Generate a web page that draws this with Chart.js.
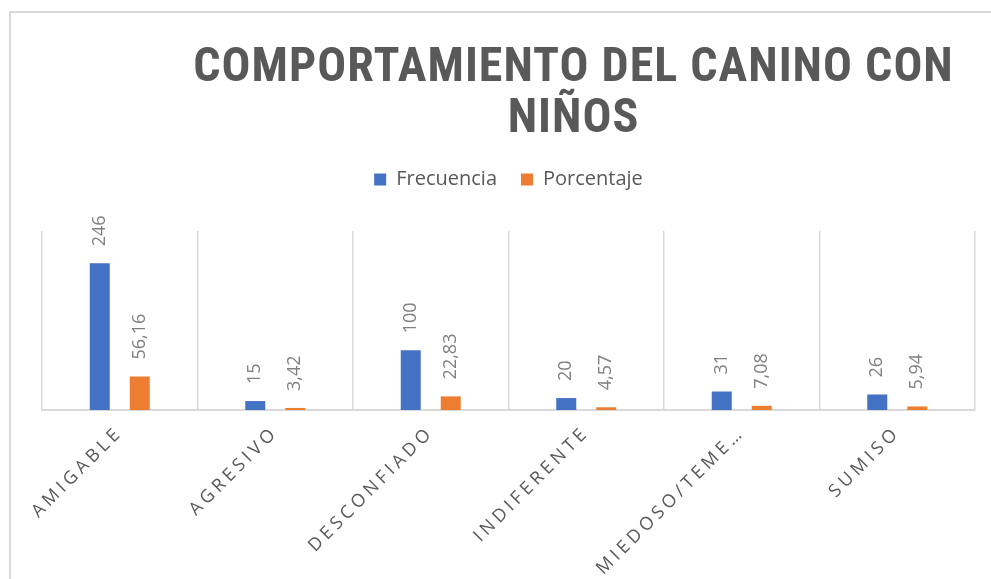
<!DOCTYPE html>
<html>
<head>
<meta charset="utf-8">
<script src="https://cdn.jsdelivr.net/npm/chart.js@4/dist/chart.umd.min.js"></script>
<style>
  html, body { margin: 0; padding: 0; background: #fff; overflow: hidden; }
  #marco { position: absolute; left: 9px; top: 11px; width: 1200px; height: 800px;
           border-left: 2px solid #d9d9d9; border-top: 2px solid #d9d9d9; }
  #wrap { position: absolute; left: 0; top: 0; width: 991px; height: 579px; }
</style>
</head>
<body>
<div id="marco"></div>
<div id="wrap"><canvas id="grafico"></canvas></div>
<script>
const categorias = ['AMIGABLE', 'AGRESIVO', 'DESCONFIADO', 'INDIFERENTE', 'MIEDOSO/TEME…', 'SUMISO'];
const frecuencia = [246, 15, 100, 20, 31, 26];
const porcentaje = [56.16, 3.42, 22.83, 4.57, 7.08, 5.94];

const gris = '#595959';

// etiquetas de datos verticales sobre cada barra
const etiquetas = {
  id: 'etiquetas',
  afterDatasetsDraw(chart) {
    const ctx = chart.ctx;
    chart.data.datasets.forEach((ds, i) => {
      chart.getDatasetMeta(i).data.forEach((bar, j) => {
        const v = ds.data[j];
        const txt = i === 0 ? String(v) : v.toFixed(2).replace('.', ',');
        ctx.save();
        ctx.translate(bar.x, bar.y - 17);
        ctx.rotate(-Math.PI / 2);
        ctx.font = '18px "Open Sans", sans-serif';
        ctx.fillStyle = '#7f7f7f';
        ctx.textAlign = 'left';
        ctx.textBaseline = 'middle';
        ctx.fillText(txt, 0, 0);
        ctx.restore();
      });
    });
  }
};

// envuelve un metodo de dibujo para darle espaciado de letras
function conEspaciado(chart, obj, metodo, esp) {
  if (!obj || obj['_esp_' + metodo]) return;
  const orig = obj[metodo];
  obj[metodo] = function(...args) {
    chart.ctx.save();
    chart.ctx.letterSpacing = esp;
    orig.apply(this, args);
    chart.ctx.restore();
  };
  obj['_esp_' + metodo] = true;
}

// titulo corrido a la derecha y espaciado de letras
const ajustes = {
  id: 'ajustes',
  afterLayout(chart) {
    chart.titleBlock.left += 65;
    chart.titleBlock.right += 65;
  },
  beforeDraw(chart) {
    conEspaciado(chart, chart.scales.x, 'drawLabels', '4px');
    conEspaciado(chart, chart.titleBlock, 'draw', '1px');
  }
};

new Chart(document.getElementById('grafico'), {
  type: 'bar',
  data: {
    labels: categorias,
    datasets: [
      { label: 'Frecuencia', data: frecuencia, backgroundColor: '#4472C4' },
      { label: 'Porcentaje', data: porcentaje, backgroundColor: '#ED7D31' }
    ]
  },
  options: {
    responsive: true,
    maintainAspectRatio: false,
    animation: false,
    categoryPercentage: 0.5145,
    barPercentage: 0.5,
    layout: { padding: { left: 42, right: 16, top: 43, bottom: 0 } },
    scales: {
      x: {
        grid: { color: '#d9d9d9', lineWidth: 1.5, drawTicks: false, offset: true },
        border: { color: '#d9d9d9', width: 2 },
        ticks: {
          minRotation: 45, maxRotation: 45, autoSkip: false,
          color: gris, padding: 12,
          font: { family: '"Open Sans", sans-serif', size: 18 }
        },
        afterFit: s => { s.height = 169; }
      },
      xTop: {
        type: 'category', position: 'top', display: true,
        grid: { display: false }, border: { display: false },
        ticks: { display: false },
        afterFit: s => { s.height = 31.5; }
      },
      y: { display: false, min: 0, max: 300 }
    },
    plugins: {
      title: {
        display: true,
        text: ['COMPORTAMIENTO DEL CANINO CON', 'NIÑOS'],
        color: gris,
        font: { family: '"Liberation Sans Narrow", "Roboto Condensed", Roboto, sans-serif', size: 48, weight: 'bold', lineHeight: 1.0625 },
        padding: { top: 0, bottom: 0.5 }
      },
      legend: {
        position: 'top',
        labels: {
          color: gris, boxWidth: 12, boxHeight: 12, padding: 24,
          font: { family: '"Open Sans", sans-serif', size: 20 }
        }
      },
      tooltip: { enabled: false }
    }
  },
  plugins: [etiquetas, ajustes]
});
</script>
</body>
</html>
